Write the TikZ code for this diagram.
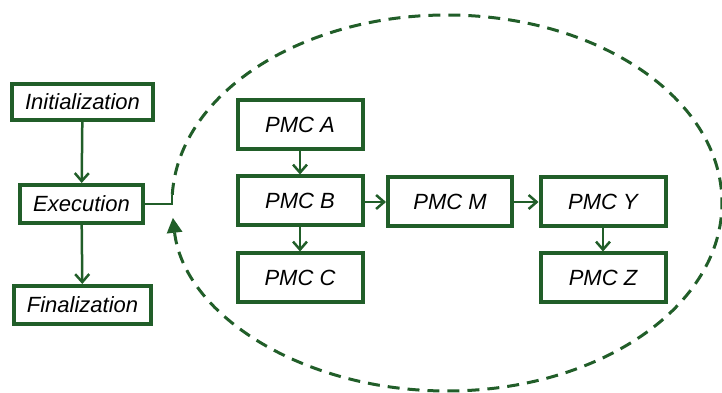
\documentclass[tikz,border=0pt]{standalone}
\usepackage{fontspec}
\setmainfont{Liberation Sans}
\usetikzlibrary{arrows.meta}
\definecolor{dg}{RGB}{33,94,41}
\begin{document}
\begin{tikzpicture}[x=1pt,y=1pt,
  box/.style={draw=dg, line width=4pt, fill=white, inner sep=0pt,
    font=\fontsize{22}{24}\selectfont\itshape},
  lbox/.style={box, minimum width=137pt, minimum height=37pt},
  pbox/.style={box, minimum width=125pt, minimum height=49pt},
  conn/.style={draw=dg, line width=2.5pt, -{Straight Barb[length=8pt,width=14pt,line width=2.5pt]}},
  loopline/.style={draw=dg, line width=3pt, dash pattern=on 12pt off 8pt}
]
\useasboundingbox (0,0) rectangle (722,393);
% left column
\node[lbox, minimum width=141pt, minimum height=36pt] (init) at (82.5,291) {Initialization};
\node[lbox, minimum width=123pt, minimum height=38pt] (exec) at (81.5,189) {Execution};
\node[lbox, minimum width=137pt, minimum height=38pt] (fin) at (82.5,88) {Finalization};
\draw[conn] (init) -- (exec);
\draw[conn] (exec) -- (fin);
% PMC boxes
\node[pbox] (A) at (300,268) {PMC A};
\node[pbox] (B) at (300,192) {PMC B};
\node[pbox] (C) at (300,115) {PMC C};
\node[pbox, minimum width=124pt] (M) at (450,191) {PMC M};
\node[pbox] (Y) at (603,191) {PMC Y};
\node[pbox] (Z) at (603,115) {PMC Z};
\draw[conn] (A) -- (B);
\draw[conn] (B) -- (C);
\draw[conn] (B.east |- M.west) -- (M.west);
\draw[conn] (M) -- (Y);
\draw[conn] (Y) -- (Z);
% loop
\coordinate (j) at ({447+275*cos(177.5)},{190+188*sin(177.5)});
\draw[draw=dg, line width=2.2pt] (exec.east) -| (j);
\draw[loopline, -{Triangle[width=15pt,length=15pt,fill=dg]}]
  (j) arc[start angle=177.5, end angle=-175.5, x radius=275, y radius=188];
\end{tikzpicture}
\end{document}
